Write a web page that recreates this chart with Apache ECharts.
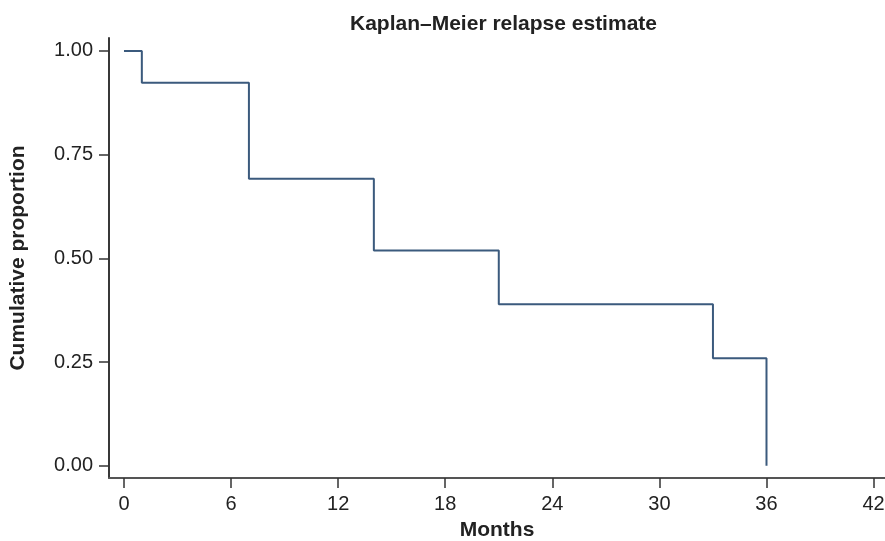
<!DOCTYPE html>
<html>
<head>
<meta charset="utf-8">
<script src="https://cdn.jsdelivr.net/npm/echarts@6/dist/echarts.min.js"></script>
<style>html,body{margin:0;padding:0;background:#fff;}#c{width:885px;height:541px;}</style>
</head>
<body>
<div id="c"></div>
<script>
var months = [0, 1, 7, 14, 21, 33, 36];
var proportion = [1.0, 0.923, 0.692, 0.519, 0.389, 0.259, 0.0];
var xTicks = [0, 6, 12, 18, 24, 30, 36, 42];
var yTicks = [0, 0.25, 0.5, 0.75, 1.0];
var titleText = 'Kaplan\u2013Meier relapse estimate';
var xName = 'Months';
var yName = 'Cumulative proportion';

var font = 'Liberation Sans, Arial, Helvetica, sans-serif';
var chart = echarts.init(document.getElementById('c'), null, {renderer: 'canvas'});
chart.setOption({
  animation: false,
  backgroundColor: '#fff',
  title: {
    text: titleText,
    left: 345, top: 9,
    textStyle: {fontFamily: font, fontSize: 21, fontWeight: 'bold', color: '#222'}
  },
  grid: {left: 109, right: 0, top: 38, bottom: 63, containLabel: false, outerBoundsMode: 'none'},
  xAxis: {
    type: 'value', min: -0.84, max: 42.64,
    axisLine: {show: true, onZero: false, lineStyle: {color: '#555', width: 1.8}},
    axisTick: {show: true, length: 10, inside: false, customValues: xTicks, lineStyle: {color: '#333', width: 1.5}},
    axisLabel: {margin: 16, fontFamily: font, fontSize: 20, color: '#222', customValues: xTicks},
    splitLine: {show: false},
    name: xName, nameLocation: 'middle', nameGap: 42,
    nameTextStyle: {fontFamily: font, fontSize: 21, fontWeight: 'bold', color: '#222'}
  },
  yAxis: {
    type: 'value', min: -0.0297, max: 1.0311,
    axisLine: {show: true, onZero: false, lineStyle: {color: '#222', width: 1.8}},
    axisTick: {show: true, length: 10, inside: false, customValues: yTicks, lineStyle: {color: '#333', width: 1.5}},
    axisLabel: {margin: 16, fontFamily: font, fontSize: 20, color: '#222', customValues: yTicks,
      formatter: function (v) { return v.toFixed(2); }},
    splitLine: {show: false},
    name: yName, nameLocation: 'middle', nameGap: 80, nameRotate: 90,
    nameTextStyle: {fontFamily: font, fontSize: 21, fontWeight: 'bold', color: '#222'}
  },
  series: [{
    type: 'line',
    step: 'end',
    data: months.map(function (m, i) { return [m, proportion[i]]; }),
    showSymbol: false,
    symbol: 'none',
    lineStyle: {color: '#3b5a7d', width: 2},
    silent: true
  }]
});
</script>
</body>
</html>
